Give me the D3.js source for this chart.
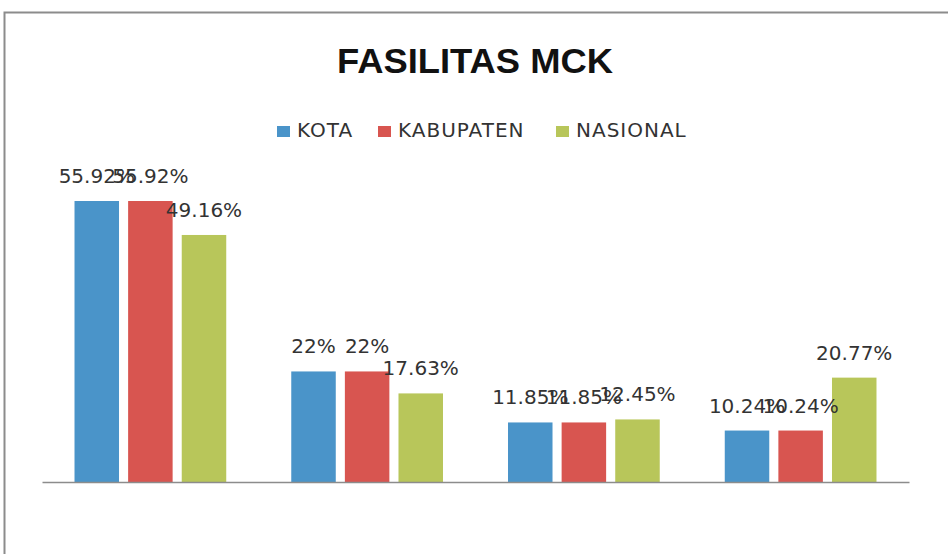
<!DOCTYPE html>
<html>
<head>
<meta charset="utf-8">
<script src="https://cdn.jsdelivr.net/npm/d3@7"></script>
<style>
  body { margin: 0; background: #fff; }
  svg { display: block; }
</style>
</head>
<body>
<svg width="948" height="554"></svg>
<script>
// data
const categories = ["Kategori 1", "Kategori 2", "Kategori 3", "Kategori 4"];
const series = ["KOTA", "KABUPATEN", "NASIONAL"];
const kota = [55.92, 22, 11.85, 10.24];
const kabupaten = [55.92, 22, 11.85, 10.24];
const nasional = [49.16, 17.63, 12.45, 20.77];
const colors = ["#4a94c9", "#d85550", "#b8c65a"];

const values = [kota, kabupaten, nasional];
const rows = [];
categories.forEach((c, i) => {
    series.forEach((s, j) => rows.push({ cat: c, ser: s, v: values[j][i] }));
});

const svg = d3.select("svg");

// chart frame (only top and left edges show)
svg.append("path")
    .attr("d", "M4.5,554 V12.5 H948")
    .attr("fill", "none")
    .attr("stroke", "#8c8c8c")
    .attr("stroke-width", 2);

// scales
const x0 = d3.scaleBand()
    .domain(categories)
    .range([42, 909])
    .paddingInner(0.3)
    .paddingOuter(0.15);

const x1 = d3.scaleBand()
    .domain(series)
    .range([0, x0.bandwidth()])
    .paddingInner(0.17);

const y = d3.scaleLinear()
    .domain([0, 60])
    .range([482, 180.5]);

const color = d3.scaleOrdinal().domain(series).range(colors);

// bars
svg.append("g").selectAll("rect")
    .data(rows)
    .enter()
    .append("rect")
    .attr("x", d => x0(d.cat) + x1(d.ser))
    .attr("y", d => y(d.v))
    .attr("width", x1.bandwidth())
    .attr("height", d => y(0) - y(d.v))
    .attr("fill", d => color(d.ser));

// axis line
const xAxis = d3.axisBottom(x0).tickSize(0).tickFormat("");
svg.append("g")
    .attr("transform", `translate(0, ${y(0)})`)
    .call(xAxis)
    .call(g => g.select(".domain").attr("stroke", "#8c8c8c").attr("stroke-width", 1.5));

// value labels
svg.append("g").selectAll("text")
    .data(rows)
    .enter()
    .append("text")
    .attr("x", d => x0(d.cat) + x1(d.ser) + x1.bandwidth() / 2)
    .attr("y", d => y(d.v) - 18)
    .attr("text-anchor", "middle")
    .attr("font-family", "DejaVu Sans, Verdana, sans-serif")
    .attr("font-size", 20)
    .attr("fill", "#333")
    .text(d => `${d.v}%`);

// title
svg.append("text")
    .attr("x", 475)
    .attr("y", 73)
    .attr("text-anchor", "middle")
    .attr("font-family", "Liberation Sans Narrow, Liberation Sans, Arial, sans-serif")
    .attr("font-weight", "bold")
    .attr("font-size", 35)
    .attr("textLength", 276)
    .attr("lengthAdjust", "spacingAndGlyphs")
    .attr("fill", "#111")
    .text("FASILITAS MCK");

// legend
const legendX = [277, 378, 556];
const legend = svg.append("g").selectAll("g")
    .data(series)
    .enter()
    .append("g")
    .attr("transform", (d, i) => `translate(${legendX[i]}, 0)`);

legend.append("rect")
    .attr("x", 0)
    .attr("y", 126)
    .attr("width", 13)
    .attr("height", 11)
    .attr("fill", d => color(d));

legend.append("text")
    .attr("x", 20)
    .attr("y", 137)
    .attr("font-family", "DejaVu Sans, Verdana, sans-serif")
    .attr("font-size", 20)
    .attr("letter-spacing", 1)
    .attr("fill", "#333")
    .text(d => d);
</script>
</body>
</html>
